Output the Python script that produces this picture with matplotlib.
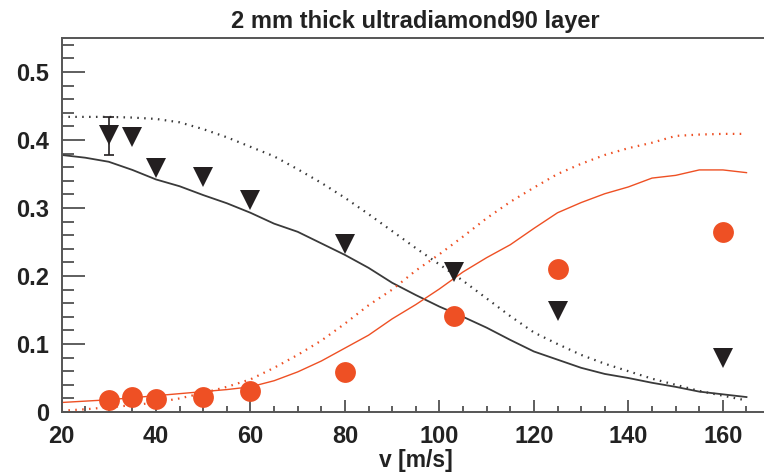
import matplotlib
matplotlib.use("Agg")
import matplotlib.pyplot as plt
from matplotlib.ticker import MultipleLocator

plt.rcParams['font.family'] = ['Liberation Sans', 'DejaVu Sans']

# measured data points
v_pts = [30, 35, 40, 50, 60, 80, 103, 125, 160]
tri_vals = [0.407, 0.404, 0.359, 0.346, 0.312, 0.247, 0.206, 0.148, 0.080]
circ_vals = [0.017, 0.022, 0.019, 0.022, 0.031, 0.059, 0.141, 0.210, 0.265]
err_v = 30
err_lo = 0.378
err_hi = 0.434

# simulated curves
v_curve = [20, 25, 30, 35, 40, 45, 50, 55, 60, 65, 70, 75, 80, 85, 90, 95,
           100, 105, 110, 115, 120, 125, 130, 135, 140, 145, 150, 155, 160, 165]
black_solid = [0.378, 0.374, 0.368, 0.356, 0.342, 0.332, 0.319, 0.307, 0.293, 0.277,
               0.265, 0.248, 0.231, 0.212, 0.190, 0.172, 0.155, 0.140, 0.124, 0.106,
               0.089, 0.077, 0.065, 0.056, 0.050, 0.043, 0.037, 0.030, 0.026, 0.022]
black_dotted = [0.434, 0.434, 0.434, 0.433, 0.431, 0.426, 0.416, 0.404, 0.390, 0.376,
                0.357, 0.337, 0.315, 0.291, 0.266, 0.241, 0.217, 0.193, 0.167, 0.141,
                0.117, 0.100, 0.084, 0.071, 0.060, 0.049, 0.040, 0.031, 0.024, 0.017]
red_solid = [0.014, 0.016, 0.018, 0.021, 0.024, 0.027, 0.030, 0.033, 0.037, 0.046,
             0.059, 0.075, 0.094, 0.113, 0.137, 0.158, 0.181, 0.206, 0.227, 0.246,
             0.270, 0.293, 0.308, 0.321, 0.331, 0.344, 0.348, 0.356, 0.356, 0.352]
red_dotted = [0.002, 0.004, 0.007, 0.010, 0.014, 0.020, 0.028, 0.037, 0.048, 0.065,
              0.084, 0.105, 0.130, 0.157, 0.180, 0.208, 0.232, 0.258, 0.285, 0.309,
              0.330, 0.350, 0.365, 0.378, 0.388, 0.396, 0.406, 0.408, 0.409, 0.409]

RED = '#EE5024'
BLK = '#231F20'

fig = plt.figure(figsize=(7.64, 4.75), dpi=100)
ax = fig.add_axes([0.0805, 0.1326, 0.9275, 0.7874])

ax.plot(v_curve, black_solid, color='#3a3a3a', lw=1.3)
ax.plot(v_curve, black_dotted, color='#3a3a3a', lw=1.6, linestyle=(0, (0.7, 2.4)))
ax.plot(v_curve, red_solid, color=RED, lw=1.0)
ax.plot(v_curve, red_dotted, color=RED, lw=1.6, linestyle=(0, (0.7, 2.4)))

ax.errorbar([err_v], [(err_lo + err_hi) / 2], yerr=[[(err_hi - err_lo) / 2], [(err_hi - err_lo) / 2]],
            fmt='none', ecolor=BLK, elinewidth=1.2, capsize=3.5, capthick=1.2)
ax.plot(v_pts, tri_vals, linestyle='none', marker='v', markersize=14,
        color=BLK, markeredgewidth=0)
ax.plot(v_pts, circ_vals, linestyle='none', marker='o', markersize=15,
        color=RED, markeredgewidth=0)

ax.set_xlim(20, 170)
ax.set_ylim(0, 0.55)

ax.xaxis.set_major_locator(MultipleLocator(20))
ax.xaxis.set_minor_locator(MultipleLocator(5))
ax.yaxis.set_major_locator(MultipleLocator(0.1))
ax.yaxis.set_minor_locator(MultipleLocator(0.02))

ax.set_yticks([0, 0.1, 0.2, 0.3, 0.4, 0.5])
ax.set_yticklabels(['0', '0.1', '0.2', '0.3', '0.4', '0.5'])

ax.tick_params(axis='y', which='major', direction='in', length=16.5, width=1.1,
               color='#333333', labelsize=17, pad=9)
ax.tick_params(axis='y', which='minor', direction='in', length=8.6, width=1.1, color='#333333')
ax.tick_params(axis='x', which='major', direction='in', length=8.6, width=1.1,
               color='#333333', labelsize=17, pad=9)
ax.tick_params(axis='x', which='minor', direction='in', length=4.3, width=1.1, color='#333333')
for lab in ax.get_xticklabels() + ax.get_yticklabels():
    lab.set_fontweight('bold')
    lab.set_color('#222222')

for s in ['left', 'bottom', 'top']:
    ax.spines[s].set_linewidth(1.4)
    ax.spines[s].set_color('#555555')
ax.spines['right'].set_visible(False)

ax.set_title('2 mm thick ultradiamond90 layer', fontsize=17, fontweight='bold',
             color='#222222', pad=7)
ax.set_xlabel('v [m/s]', fontsize=16.5, fontweight='bold', color='#222222', labelpad=1)

fig.savefig('out.png', dpi=100)
